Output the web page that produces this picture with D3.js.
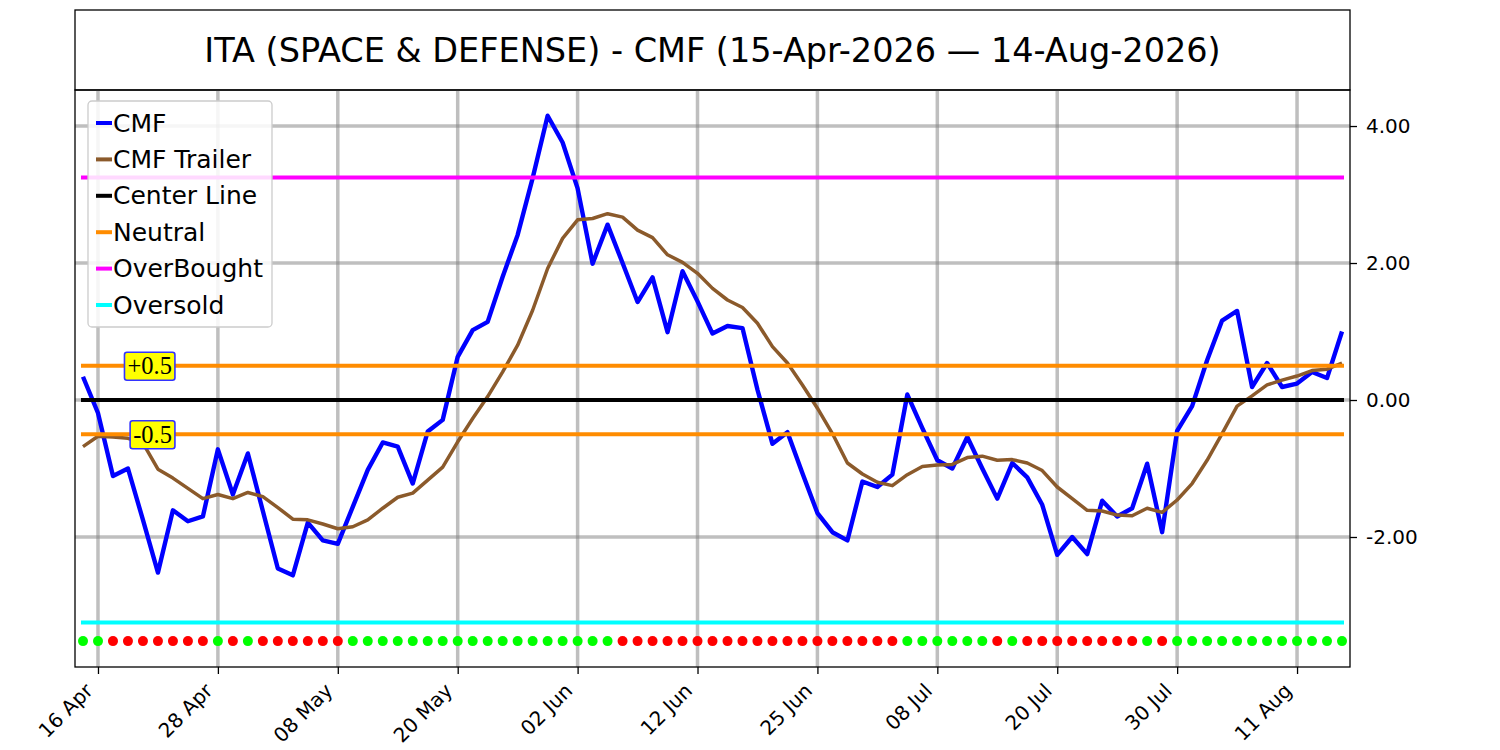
<!DOCTYPE html>
<html>
<head>
<meta charset="utf-8">
<script src="https://cdn.jsdelivr.net/npm/d3@7"></script>
<style>
  html, body { margin: 0; padding: 0; background: #ffffff; }
  svg { display: block; }
</style>
</head>
<body>
<svg id="chart" width="1500" height="750"></svg>
<script>
// ---------------- DATA ----------------
const titleText = "ITA (SPACE & DEFENSE) - CMF (15-Apr-2026 \u2014 14-Aug-2026)";

const dates = [
  "2026-04-15","2026-04-16","2026-04-17","2026-04-20","2026-04-21","2026-04-22","2026-04-23","2026-04-24","2026-04-27","2026-04-28","2026-04-29","2026-04-30",
  "2026-05-01","2026-05-04","2026-05-05","2026-05-06","2026-05-07","2026-05-08","2026-05-11","2026-05-12","2026-05-13","2026-05-14","2026-05-15","2026-05-18","2026-05-19","2026-05-20","2026-05-21","2026-05-22","2026-05-26","2026-05-27","2026-05-28","2026-05-29",
  "2026-06-01","2026-06-02","2026-06-03","2026-06-04","2026-06-05","2026-06-08","2026-06-09","2026-06-10","2026-06-11","2026-06-12","2026-06-15","2026-06-16","2026-06-17","2026-06-18","2026-06-22","2026-06-23","2026-06-24","2026-06-25","2026-06-26","2026-06-29","2026-06-30",
  "2026-07-01","2026-07-02","2026-07-06","2026-07-07","2026-07-08","2026-07-09","2026-07-10","2026-07-13","2026-07-14","2026-07-15","2026-07-16","2026-07-17","2026-07-20","2026-07-21","2026-07-22","2026-07-23","2026-07-24","2026-07-27","2026-07-28","2026-07-29","2026-07-30","2026-07-31",
  "2026-08-03","2026-08-04","2026-08-05","2026-08-06","2026-08-07","2026-08-10","2026-08-11","2026-08-12","2026-08-13","2026-08-14"
];

const cmf = [
  0.34,-0.19,-1.11,-1.00,-1.75,-2.52,-1.61,-1.77,-1.70,-0.72,
  -1.38,-0.78,-1.62,-2.46,-2.56,-1.79,-2.05,-2.10,-1.56,-1.02,
  -0.62,-0.68,-1.22,-0.46,-0.29,0.63,1.02,1.14,1.80,2.41,
  3.24,4.15,3.76,3.09,1.99,2.56,2.00,1.43,1.79,0.99,
  1.88,1.44,0.97,1.08,1.05,0.15,-0.64,-0.47,-1.07,-1.65,
  -1.93,-2.05,-1.19,-1.27,-1.09,0.08,-0.41,-0.88,-1.00,-0.54,
  -1.00,-1.44,-0.92,-1.13,-1.53,-2.26,-2.00,-2.25,-1.47,-1.70,
  -1.58,-0.93,-1.93,-0.45,-0.09,0.58,1.16,1.30,0.19,0.54,
  0.19,0.24,0.41,0.32,1.00
];

const cmfTrailer = [
  -0.68,-0.53,-0.54,-0.56,-0.63,-1.01,-1.14,-1.29,-1.44,-1.38,
  -1.44,-1.35,-1.41,-1.57,-1.74,-1.75,-1.81,-1.88,-1.85,-1.75,
  -1.58,-1.42,-1.36,-1.17,-0.98,-0.61,-0.27,0.05,0.41,0.80,
  1.31,1.92,2.36,2.63,2.65,2.72,2.67,2.48,2.37,2.12,
  2.01,1.85,1.63,1.46,1.35,1.12,0.78,0.54,0.22,-0.12,
  -0.49,-0.92,-1.08,-1.20,-1.25,-1.09,-0.97,-0.95,-0.94,-0.84,
  -0.82,-0.88,-0.87,-0.92,-1.03,-1.27,-1.44,-1.61,-1.62,-1.68,
  -1.69,-1.58,-1.64,-1.46,-1.22,-0.88,-0.49,-0.09,0.06,0.22,
  0.29,0.35,0.43,0.45,0.54
];

// signal dots: 1 = green, 0 = red
const signals = [
  1,1,0,0,0,0,0,0,0,1,
  0,1,0,0,0,0,0,0,1,1,
  1,1,1,1,1,1,1,1,1,1,
  1,1,1,1,1,1,0,0,0,0,
  0,0,0,0,0,0,0,0,0,0,
  0,0,0,0,0,1,1,1,1,1,
  1,0,1,0,0,0,0,0,0,0,
  0,1,0,1,1,1,1,1,1,1,
  1,1,1,1,1
];
const signalLevel = -3.52;

const centerLevel = 0;
const neutralLevels = [0.5, -0.5];
const overBought = 3.25;
const overSold = -3.25;

const xTickDates = ["2026-04-16","2026-04-28","2026-05-08","2026-05-20","2026-06-02","2026-06-12","2026-06-25","2026-07-08","2026-07-20","2026-07-30","2026-08-11"];
const xTickLabels = ["16 Apr","28 Apr","08 May","20 May","02 Jun","12 Jun","25 Jun","08 Jul","20 Jul","30 Jul","11 Aug"];
const yTicks = [4, 2, 0, -2];

const bandLabels = ["+0.5", "-0.5"];
const bandLabelValues = [0.5, -0.5];
const bandLabelIndex = 6;

const legendNames = ["CMF","CMF Trailer","Center Line","Neutral","OverBought","Oversold"];
const legendColors = ["#0000ff","#8b5a2b","#000000","#ff8c00","#ff00ff","#00ffff"];

// ---------------- LAYOUT ----------------
const svg = d3.select("#chart");
const L = 75, R = 1350, T = 90, B = 667;
const FONT = "DejaVu Sans, sans-serif";

const x = d3.scaleLinear().domain([-8/15, dates.length - 1 + 8/15]).range([L, R]);
const y = d3.scaleLinear().domain([-3.898, 4.526]).range([B, T]);

// title box
svg.append("rect").attr("x", L).attr("y", 10).attr("width", R - L).attr("height", T - 10)
  .attr("fill", "#fff").attr("stroke", "#000").attr("stroke-width", 1.3);
svg.append("text").attr("x", (L + R) / 2).attr("y", 50)
  .attr("text-anchor", "middle").attr("dominant-baseline", "central")
  .style("font-family", FONT).style("font-size", "33.5px").text(titleText);

const plot = svg.append("g");
plot.append("defs").append("clipPath").attr("id", "clip")
  .append("rect").attr("x", L).attr("y", T).attr("width", R - L).attr("height", B - T);

const tickIdx = xTickDates.map(d => dates.indexOf(d));

// grid
const grid = plot.append("g").attr("clip-path", "url(#clip)");
grid.selectAll("line.v").data(tickIdx).join("line")
  .attr("x1", d => x(d)).attr("x2", d => x(d)).attr("y1", T).attr("y2", B)
  .attr("stroke", "#808080").attr("stroke-opacity", 0.5).attr("stroke-width", 3.5);
grid.selectAll("line.h").data(yTicks).join("line")
  .attr("x1", L).attr("x2", R).attr("y1", d => y(d)).attr("y2", d => y(d))
  .attr("stroke", "#808080").attr("stroke-opacity", 0.5).attr("stroke-width", 3.5);

const idx = d3.range(dates.length);
const lineGen = vals => d3.line().x(i => x(i)).y(i => y(vals[i]))(idx);

const marks = plot.append("g").attr("clip-path", "url(#clip)");
marks.append("path").attr("d", lineGen(cmf)).attr("fill", "none")
  .attr("stroke", legendColors[0]).attr("stroke-width", 4.4).attr("stroke-linejoin", "round");
marks.append("path").attr("d", lineGen(cmfTrailer)).attr("fill", "none")
  .attr("stroke", legendColors[1]).attr("stroke-width", 3.5).attr("stroke-linejoin", "round");

function hline(v, color, w) {
  marks.append("line").attr("x1", x(0)).attr("x2", x(dates.length - 1))
    .attr("y1", y(v)).attr("y2", y(v)).attr("stroke", color).attr("stroke-width", w)
    .attr("stroke-linecap", "square");
}
hline(centerLevel, legendColors[2], 4);
neutralLevels.forEach(v => hline(v, legendColors[3], 4));
hline(overBought, legendColors[4], 4);
hline(overSold, legendColors[5], 4);

marks.selectAll("circle.sig").data(idx).join("circle")
  .attr("cx", i => x(i)).attr("cy", y(signalLevel)).attr("r", 5)
  .attr("fill", i => signals[i] ? "#00ff00" : "#ff0000");

// band labels
bandLabels.forEach((lab, k) => {
  const g = plot.append("g");
  const t = g.append("text").attr("x", x(bandLabelIndex) - 1).attr("y", y(bandLabelValues[k]))
    .attr("text-anchor", "end").attr("dominant-baseline", "central")
    .style("font-family", "Liberation Serif, Times New Roman, serif").style("font-size", "24.5px")
    .text(lab);
  const bb = t.node().getBBox();
  g.insert("rect", "text").attr("x", bb.x - 3).attr("y", bb.y).attr("width", bb.width + 6)
    .attr("height", bb.height + 1).attr("rx", 2.5)
    .attr("fill", "#ffff00").attr("stroke", "#3333ff").attr("stroke-width", 1.6);
});

// frame
plot.append("rect").attr("x", L).attr("y", T).attr("width", R - L).attr("height", B - T)
  .attr("fill", "none").attr("stroke", "#000").attr("stroke-width", 1.3);

// right y axis
const yAxis = plot.append("g").attr("transform", `translate(${R},0)`)
  .call(d3.axisRight(y).tickValues(yTicks).tickFormat(d => d.toFixed(2)).tickSize(7).tickPadding(9));
yAxis.select(".domain").remove();
yAxis.selectAll("text").style("font-family", FONT).style("font-size", "20px").attr("fill", "#000");
yAxis.selectAll("line").attr("stroke", "#000").attr("stroke-width", 1.3);

// bottom x axis
const xAxis = plot.append("g").attr("transform", `translate(0,${B})`)
  .call(d3.axisBottom(x).tickValues(tickIdx).tickFormat(() => "").tickSize(7));
xAxis.select(".domain").remove();
xAxis.selectAll("line").attr("stroke", "#000").attr("stroke-width", 1.3);
plot.append("g").selectAll("text").data(tickIdx).join("text")
  .attr("transform", d => `translate(${x(d) - 4},${B + 25}) rotate(-45)`)
  .attr("text-anchor", "end")
  .style("font-family", FONT).style("font-size", "20px")
  .text((d, k) => xTickLabels[k]);

// legend
const lg = svg.append("g");
lg.append("rect").attr("x", 88).attr("y", 101).attr("width", 184).attr("height", 226).attr("rx", 4)
  .attr("fill", "#fff").attr("fill-opacity", 0.85).attr("stroke", "#cccccc").attr("stroke-width", 1.3);
legendNames.forEach((n, k) => {
  const cy = 123 + k * 36.4;
  lg.append("line").attr("x1", 96).attr("x2", 112).attr("y1", cy).attr("y2", cy)
    .attr("stroke", legendColors[k]).attr("stroke-width", 4);
  lg.append("text").attr("x", 113).attr("y", cy).attr("dominant-baseline", "central")
    .style("font-family", FONT).style("font-size", "25px").text(n);
});
</script>
</body>
</html>
